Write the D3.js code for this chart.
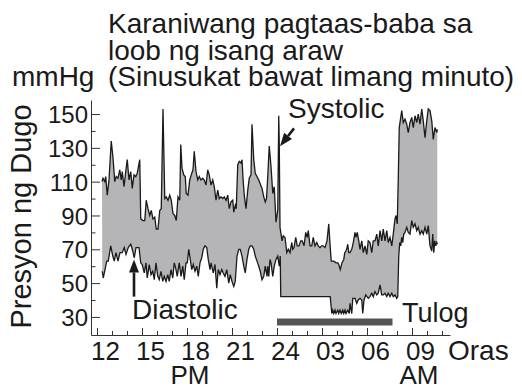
<!DOCTYPE html>
<html>
<head>
<meta charset="utf-8">
<script src="https://cdn.jsdelivr.net/npm/d3@7"></script>
<style>
  html, body { margin: 0; padding: 0; background: #fff; }
  svg { display: block; font-family: "Liberation Sans", Arial, Helvetica, sans-serif; }
</style>
</head>
<body>
<svg id="chart" width="522" height="389"></svg>
<script>
// Readings: minutes after 12:00 noon, and pressure in mmHg
const sysMinutes = [20,24,31,35,41,48,57,64,71,77,84,91,97,101,108,115,121,128,135,141,148,155,161,171,175,184,191,197,204,211,217,224,231,237,244,251,257,264,271,277,284,291,297,304,311,317,324,331,335,340,347,353,357,364,371,377,384,389,396,403,409,416,423,429,436,443,449,456,463,469,476,483,489,496,503,509,516,523,529,536,543,547,553,557,563,569,576,580,584,589,596,603,609,616,620,627,633,647,660,667,673,678,683,689,696,703,709,716,723,727,729,732,736,740,745,752,759,765,772,779,783,788,795,801,808,815,821,828,835,841,845,852,859,865,872,879,885,892,899,905,912,920,927,933,937,947,956,963,967,973,980,987,991,996,1000,1003,1007,1012,1019,1025,1032,1036,1041,1047,1052,1059,1065,1072,1079,1085,1092,1099,1105,1112,1119,1125,1132,1139,1145,1152,1159,1165,1172,1179,1185,1192,1196,1201,1205,1209,1219,1225,1232,1239,1245,1252,1259,1265,1272,1279,1285,1292,1299,1305,1312,1319,1325,1332,1339,1345,1352,1359,1361];
const sysValues = [110,112,110,113,102,111,134,124,110,113,112,117,111,116,107,116,123,111,116,106,114,113,115,123,88,87,87,99,94,90,93,88,89,82,82,93,94,153,100,101,99,102,99,91,90,87,101,99,132,118,114,113,103,102,111,114,117,128,116,111,113,111,112,111,108,117,114,108,111,107,99,105,100,101,100,101,99,102,94,98,99,92,96,94,120,122,121,123,112,102,94,105,112,114,144,123,115,111,106,101,98,100,113,131,119,103,107,86,93,149,133,83,79,75,78,77,68,70,68,74,70,71,77,72,72,75,75,72,80,77,81,72,72,77,72,74,72,71,72,72,71,75,85,71,63,63,62,62,61,58,62,64,68,69,71,73,68,68,70,74,80,77,80,75,70,75,68,72,67,75,74,68,75,75,79,72,81,75,82,75,81,74,77,72,79,88,90,85,111,142,152,145,147,144,139,145,148,142,149,145,150,144,153,146,136,146,153,152,146,135,142,139,141];

const diaMinutes = [21,25,32,39,45,55,63,69,76,84,92,101,109,116,125,135,143,149,156,168,175,181,189,196,201,209,216,223,229,236,243,249,256,263,269,276,283,289,296,303,309,316,321,329,336,343,349,356,361,367,373,379,385,392,399,405,412,419,425,432,439,445,452,456,465,472,479,485,492,499,505,512,519,527,533,540,547,553,560,567,573,580,587,593,600,607,613,620,627,633,640,647,653,660,667,673,680,683,687,692,696,703,709,716,723,729,733,735,933,939,943,947,952,956,963,967,972,977,983,987,992,996,1003,1009,1012,1019,1023,1032,1039,1045,1052,1059,1063,1068,1075,1085,1092,1099,1105,1112,1119,1125,1132,1139,1145,1152,1159,1165,1172,1179,1185,1192,1199,1203,1207,1211,1215,1219,1223,1227,1232,1239,1245,1252,1259,1265,1272,1279,1285,1292,1299,1305,1312,1319,1325,1332,1339,1343,1347,1351,1355,1359,1361];
const diaValues = [57,53,58,63,63,72,66,63,68,63,68,68,71,67,71,73,69,65,71,71,62,61,56,62,53,61,55,57,52,62,54,52,57,51,54,51,55,51,58,53,62,58,54,62,54,60,52,62,62,70,64,58,61,57,60,54,62,65,70,72,71,64,58,62,56,61,47,58,55,58,56,54,58,50,55,51,48,51,66,70,70,66,60,56,64,70,72,72,70,66,63,60,57,52,54,60,54,60,54,64,62,54,60,64,66,60,66,42,42,32,34,32,34,32,34,32,34,32,34,32,34,32,34,32,38,32,41,41,38,40,41,40,32,40,43,41,42,44,42,45,43,44,49,43,43,44,42,44,42,44,42,43,41,42,66,74,72,77,74,79,80,83,80,79,87,83,85,81,83,79,81,79,83,79,84,72,69,79,68,75,72,74,73];

// Axis ticks
const yMajorTicks = [30, 50, 70, 90, 110, 130, 150];
const yMinorTicks = [40, 60, 80, 100, 120, 140];
const xHourTicks = d3.range(12, 36);             // every hour
const xLabelHours = [12, 15, 18, 21, 24, 27, 30, 33];
const xLabels = ["12", "15", "18", "21", "24", "03", "06", "09"];

// Sleep period (hours on the same clock as the x axis)
const sleepStart = 24;
const sleepEnd = 31.7;

const titleLines = ["Karaniwang pagtaas-baba sa", "loob ng isang araw", "(Sinusukat bawat limang minuto)"];

const toHour = m => 12 + m / 60;

const svg = d3.select("#chart");
const ink = "#1a1a1a";

const x = d3.scaleLinear().domain([11.6, 35.533]).range([91, 450]);
const y = d3.scaleLinear().domain([19.3, 158.3]).range([335, 100]);

const sys = sysMinutes.map((m, i) => [toHour(m), sysValues[i]]);
const dia = diaMinutes.map((m, i) => [toHour(m), diaValues[i]]);

const line = d3.line().x(d => x(d[0])).y(d => y(d[1]));

// Band between the two readings
svg.append("path")
  .attr("d", line(sys.concat(dia.slice().reverse())) + "Z")
  .attr("fill", "#b5b5b8")
  .attr("stroke", "none");

svg.append("path").attr("d", line(sys)).attr("fill", "none")
  .attr("stroke", ink).attr("stroke-width", 1.3).attr("stroke-linejoin", "miter");
svg.append("path").attr("d", line(dia)).attr("fill", "none")
  .attr("stroke", ink).attr("stroke-width", 1.3).attr("stroke-linejoin", "miter");

// Sleep bar
svg.append("rect")
  .attr("x", x(sleepStart)).attr("width", x(sleepEnd) - x(sleepStart))
  .attr("y", y.range()[0] - 16.5).attr("height", 7)
  .attr("fill", "#555555");

// Y axis
const yAxisG = svg.append("g").attr("transform", `translate(${x.range()[0]},0)`);
yAxisG.call(d3.axisLeft(y).tickValues(yMajorTicks).tickSizeInner(-9).tickSizeOuter(0).tickPadding(3));
const yMinorG = svg.append("g").attr("transform", `translate(${x.range()[0]},0)`);
yMinorG.call(d3.axisLeft(y).tickValues(yMinorTicks).tickSizeInner(-4.5).tickSizeOuter(0).tickFormat(""));
yMinorG.select(".domain").remove();

// X axis
const xAxisG = svg.append("g").attr("transform", `translate(0,${y.range()[0]})`);
xAxisG.call(d3.axisBottom(x).tickValues(xHourTicks).tickSizeInner(-4).tickSizeOuter(0).tickFormat(""));
const xMajorG = svg.append("g").attr("transform", `translate(0,${y.range()[0]})`);
xMajorG.call(d3.axisBottom(x).tickValues(xLabelHours).tickSizeInner(-7).tickSizeOuter(0)
  .tickFormat((d, i) => xLabels[i]));
xMajorG.select(".domain").remove();

[yAxisG, yMinorG, xAxisG, xMajorG].forEach(g => {
  g.selectAll("path,line").attr("stroke", "#333").attr("stroke-width", 1);
});
yAxisG.selectAll("text").attr("font-size", 24).attr("fill", ink)
  .attr("font-family", "Liberation Sans, Arial, sans-serif").attr("dy", "0.36em");
xMajorG.selectAll("text").attr("font-size", 26).attr("fill", ink)
  .attr("font-family", "Liberation Sans, Arial, sans-serif")
  .attr("x", 8).attr("y", 0).attr("dy", 25);

// Units and axis titles
svg.append("text").attr("x", 12).attr("y", 86).attr("font-size", 28).attr("fill", ink).text("mmHg");
svg.append("text")
  .attr("transform", `translate(31,${(y.range()[0] + y.range()[1]) / 2 - 1}) rotate(-90)`)
  .attr("text-anchor", "middle").attr("font-size", 29).attr("fill", ink)
  .text("Presyon ng Dugo");
svg.append("text").attr("x", 448).attr("y", 360).attr("font-size", 28).attr("fill", ink).text("Oras");
svg.append("text").attr("x", x(18) + 3).attr("y", 384).attr("text-anchor", "middle")
  .attr("font-size", 26).attr("fill", ink).text("PM");
svg.append("text").attr("x", x(33) + 7).attr("y", 384).attr("text-anchor", "middle")
  .attr("font-size", 26).attr("fill", ink).text("AM");

// Chart title
svg.append("g").selectAll("text").data(titleLines).join("text")
  .attr("x", 108).attr("y", (d, i) => 33 + i * 26.5)
  .attr("font-size", 28).attr("fill", ink).text(d => d);

// Annotations
function arrow(x1, y1, x2, y2) {
  const ang = Math.atan2(y2 - y1, x2 - x1);
  const len = 13, half = 5;
  const bx = x2 - len * Math.cos(ang), by = y2 - len * Math.sin(ang);
  svg.append("line").attr("x1", x1).attr("y1", y1).attr("x2", bx).attr("y2", by)
    .attr("stroke", ink).attr("stroke-width", 2.6);
  const px = -Math.sin(ang) * half, py = Math.cos(ang) * half;
  svg.append("path")
    .attr("d", `M${x2},${y2}L${bx + px},${by + py}L${bx - px},${by - py}Z`)
    .attr("fill", ink);
}
arrow(x(toHour(788)), y(141.5), x(toHour(732)), y(131));
arrow(x(toHour(148)), y(42), x(toHour(148)), y(64));

svg.append("text").attr("x", x(toHour(764))).attr("y", y(147.6))
  .attr("font-size", 28).attr("fill", ink).text("Systolic");
svg.append("text").attr("x", x(toHour(140))).attr("y", y(28.7))
  .attr("font-size", 28).attr("fill", ink).text("Diastolic");
svg.append("text").attr("x", x(toHour(1220))).attr("y", y(26.9))
  .attr("font-size", 27).attr("fill", ink).text("Tulog");
</script>
</body>
</html>
